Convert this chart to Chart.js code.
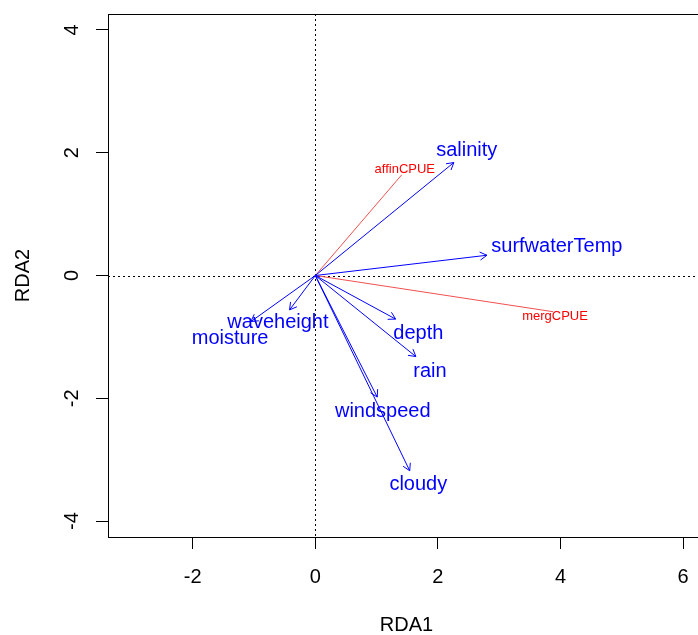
<!DOCTYPE html>
<html>
<head>
<meta charset="utf-8">
<script src="https://cdn.jsdelivr.net/npm/chart.js@4"></script>
<style>
  html, body { margin: 0; padding: 0; background: #fff; overflow: hidden; width: 698px; height: 635px; }
  canvas { display: block; }
</style>
</head>
<body>
<canvas id="c" width="705" height="635"></canvas>
<script>
// Environmental variable arrows (blue)
const envNames  = ['salinity', 'surfwaterTemp', 'depth', 'rain', 'windspeed', 'cloudy', 'waveheight', 'moisture'];
const envX      = [2.26, 2.80, 1.31, 1.64, 1.01, 1.54, -0.42, -1.05];
const envY      = [1.84, 0.33, -0.71, -1.32, -1.98, -3.18, -0.56, -0.75];
const envLabelX = [2.47, 3.94, 1.68, 1.87, 1.10, 1.68, -0.61, -1.39];
const envLabelY = [2.04, 0.48, -0.94, -1.57, -2.21, -3.41, -0.76, -1.03];

// Response (species) vectors (red)
const spNames  = ['affinCPUE', 'mergCPUE'];
const spX      = [1.41, 3.88];
const spY      = [1.64, -0.59];
const spLabelX = [1.46, 3.91];
const spLabelY = [1.72, -0.66];

// Axes
const xTicks = [-2, 0, 2, 4, 6];
const yTicks = [-4, -2, 0, 2, 4];
const xRange = [-3.382, 6.357];
const yRange = [-4.259, 4.259];

const FONT = '"Liberation Sans", Arial, sans-serif';
const BLUE = '#0000ff';
const RED = '#ff0000';

const datasets = [];
envNames.forEach((n, i) => {
  datasets.push({
    label: n,
    data: [{x: 0, y: 0}, {x: envX[i], y: envY[i]}],
    showLine: true, borderColor: BLUE, borderWidth: 1, pointRadius: 0,
    arrow: true, textLabel: {x: envLabelX[i], y: envLabelY[i], color: BLUE, size: 20}
  });
});
spNames.forEach((n, i) => {
  datasets.push({
    label: n,
    data: [{x: 0, y: 0}, {x: spX[i], y: spY[i]}],
    showLine: true, borderColor: '#f05050', borderWidth: 1, pointRadius: 0,
    arrow: false, textLabel: {x: spLabelX[i], y: spLabelY[i], color: RED, size: 13}
  });
});

const decor = {
  id: 'decor',
  beforeDatasetsDraw(chart) {
    const {ctx, chartArea: a, scales: {x, y}} = chart;
    ctx.save();
    ctx.strokeStyle = '#000';
    ctx.lineWidth = 1;
    ctx.setLineDash([2, 3]);
    const x0 = Math.round(x.getPixelForValue(0)) + 0.5;
    const y0 = Math.round(y.getPixelForValue(0)) + 0.5;
    ctx.beginPath();
    ctx.moveTo(x0, a.top); ctx.lineTo(x0, a.bottom);
    ctx.moveTo(a.left, y0); ctx.lineTo(a.right, y0);
    ctx.stroke();
    ctx.restore();
  },
  afterDatasetsDraw(chart) {
    const {ctx, chartArea: a, scales: {x, y}} = chart;
    ctx.save();
    chart.data.datasets.forEach(ds => {
      const p0 = ds.data[0], p1 = ds.data[1];
      const px0 = x.getPixelForValue(p0.x), py0 = y.getPixelForValue(p0.y);
      const px1 = x.getPixelForValue(p1.x), py1 = y.getPixelForValue(p1.y);
      if (ds.arrow) {
        const ang = Math.atan2(py1 - py0, px1 - px0);
        const L = 8, h = Math.PI / 6;
        ctx.strokeStyle = ds.borderColor;
        ctx.lineWidth = 1;
        ctx.beginPath();
        ctx.moveTo(px1 - L * Math.cos(ang - h), py1 - L * Math.sin(ang - h));
        ctx.lineTo(px1, py1);
        ctx.lineTo(px1 - L * Math.cos(ang + h), py1 - L * Math.sin(ang + h));
        ctx.stroke();
      }
      const t = ds.textLabel;
      ctx.fillStyle = t.color;
      ctx.font = t.size + 'px ' + FONT;
      ctx.textAlign = 'center';
      ctx.textBaseline = 'middle';
      ctx.fillText(ds.label, x.getPixelForValue(t.x), y.getPixelForValue(t.y));
    });
    // box
    ctx.strokeStyle = '#000';
    ctx.lineWidth = 1;
    ctx.strokeRect(Math.round(a.left) + 0.5, Math.round(a.top) + 0.5, Math.round(a.right - a.left), Math.round(a.bottom - a.top));
    // rotated y tick labels
    ctx.fillStyle = '#000';
    ctx.font = '20px ' + FONT;
    ctx.textAlign = 'center';
    ctx.textBaseline = 'middle';
    yTicks.forEach(v => {
      const py = y.getPixelForValue(v);
      ctx.save();
      ctx.translate(72, py);
      ctx.rotate(-Math.PI / 2);
      ctx.fillText(String(v), 0, 0);
      ctx.restore();
    });
    ctx.restore();
  }
};

new Chart(document.getElementById('c'), {
  type: 'scatter',
  data: { datasets },
  options: {
    responsive: false,
    animation: false,
    layout: { padding: { left: 0, top: 14, right: 0, bottom: 0 } },
    plugins: { legend: { display: false }, tooltip: { enabled: false } },
    scales: {
      x: {
        type: 'linear', min: xRange[0], max: xRange[1],
        afterBuildTicks: s => { s.ticks = xTicks.map(v => ({value: v})); },
        afterFit: s => { s.height = 98; },
        grid: { display: true, drawOnChartArea: false, drawTicks: true, tickLength: 12, color: '#000', lineWidth: 1 },
        border: { display: false },
        ticks: { color: '#000', font: { family: FONT, size: 20 }, padding: 16, maxRotation: 0, autoSkip: false },
        title: { display: true, text: 'RDA1', color: '#000', font: { family: FONT, size: 20, lineHeight: 1 }, padding: { top: 0, bottom: 0 } }
      },
      y: {
        type: 'linear', min: yRange[0], max: yRange[1],
        afterBuildTicks: s => { s.ticks = yTicks.map(v => ({value: v})); },
        afterFit: s => { s.width = 108; },
        grid: { display: true, drawOnChartArea: false, drawTicks: true, tickLength: 12, color: '#000', lineWidth: 1 },
        border: { display: false },
        ticks: { display: false },
        title: { display: true, text: 'RDA2', color: '#000', font: { family: FONT, size: 20, lineHeight: 1 }, padding: { top: 13, bottom: 0 } }
      }
    }
  },
  plugins: [decor]
});
</script>
</body>
</html>
